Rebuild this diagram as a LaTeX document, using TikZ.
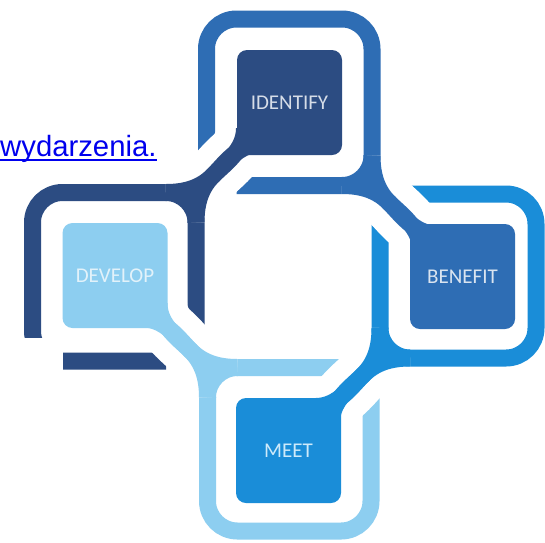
\documentclass[tikz,border=0pt]{standalone}
\usepackage{fontspec}
\setmainfont{Carlito}
\newfontfamily\linkfont{Liberation Sans}
\definecolor{navy}{RGB}{44,76,130}
\definecolor{midblue}{RGB}{46,109,180}
\definecolor{skyblue}{RGB}{26,141,216}
\definecolor{paleblue}{RGB}{141,206,240}
\definecolor{linkblue}{RGB}{0,0,238}
\definecolor{idtext}{RGB}{214,221,232}
\definecolor{devtext}{RGB}{226,242,250}
\definecolor{bentext}{RGB}{218,228,240}
\definecolor{meettext}{RGB}{206,234,250}
\begin{document}
\begin{tikzpicture}[
        x=1pt, y=-1pt,
        tile/.style={rectangle, rounded corners=10pt, minimum width=105pt, minimum height=105pt, inner sep=0pt, font=\fontsize{21}{21}\selectfont},
        ringband/.style={line width=17pt, rounded corners=30pt},
        flowband/.style={line width=17pt},
        cutband/.style={white, line width=56pt}
    ]
    \path[use as bounding box, fill=white] (0,0) rectangle (545,542);
    \draw[ringband, midblue] (236.5,185.5) -- (372,185.5) -- (372,19) -- (206.5,19) -- (206.5,155.5);
    \draw[ringband, navy] (196,331) -- (196,192.5) -- (32.5,192.5) -- (32.5,361) -- (166,361);
    \draw[ringband, skyblue] (410,194) -- (536,194) -- (536,358) -- (380,358) -- (380,224);
    \draw[ringband, paleblue] (371,397.5) -- (371,531) -- (207.5,531) -- (207.5,367.5) -- (341,367.5);
    \foreach \cx/\cy/\sx/\sy/\col in {196/192.5/1/1/navy, 372/185.5/1/-1/midblue, 380/358/-1/-1/skyblue, 207.5/367.5/-1/1/paleblue}
    {
        \begin{scope}[shift={(\cx,\cy)}, xscale=\sx, yscale=\sy]
            \draw[cutband] (-30,0) .. controls (-10,0) and (5,-5) .. (17,-17) .. controls (28,-28) and (48.5,-42) .. (48.5,-64);
            \draw[cutband] (0,30) .. controls (0,10) and (5,-5) .. (17,-17) .. controls (28,-28) and (42,-48.5) .. (64,-48.5);
            \draw[ringband, \col] (-30,0) -- (0,0) -- (0,30);
            \draw[flowband, \col] (-30,0) .. controls (-10,0) and (5,-5) .. (17,-17) .. controls (28,-28) and (48.5,-42) .. (48.5,-64);
            \draw[flowband, \col] (0,30) .. controls (0,10) and (5,-5) .. (17,-17) .. controls (28,-28) and (42,-48.5) .. (64,-48.5);
        \end{scope}
    }
    \node[tile, fill=navy, text=idtext] (identify) at (289.5,102.5) {IDENTIFY};
    \node[tile, fill=paleblue, text=devtext] (develop) at (115,275.5) {DEVELOP};
    \node[tile, fill=midblue, text=bentext] (benefit) at (462.5,276.5) {BENEFIT};
    \node[tile, fill=skyblue, text=meettext] (meet) at (288.5,450.5) {MEET};
    \fill[white] (0,338) rectangle (63,542);
    \node[anchor=base west, inner sep=0pt, text=linkblue, font=\linkfont\fontsize{29.3}{29.3}\selectfont] (link) at (0,156) {wydarzenia.};
    \draw[linkblue, line width=2pt] ([yshift=-4pt]link.base west) -- ([yshift=-4pt]link.base east);
\end{tikzpicture}
\end{document}
